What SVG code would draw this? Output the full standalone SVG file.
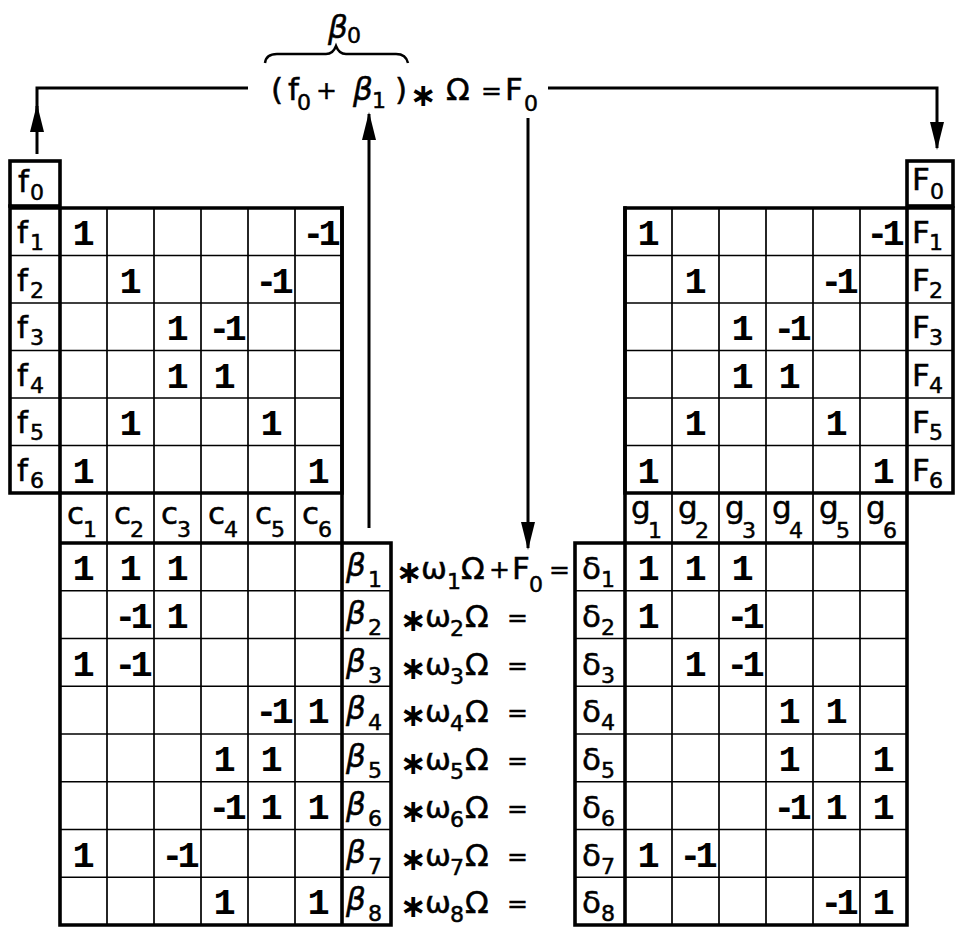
<svg xmlns="http://www.w3.org/2000/svg" width="956" height="928" viewBox="0 0 956 928">
<style>
.tk{stroke:#000;stroke-width:3.6;fill:none;stroke-linecap:square}
.tn{stroke:#000;stroke-width:1.7;fill:none}
.cn{stroke:#000;stroke-width:3;fill:none}
text{font-family:"DejaVu Sans","Liberation Sans",sans-serif;fill:#000;stroke:#000;stroke-width:0.5}
.L{font-size:31px}
.S{font-size:22px}
.E{font-size:25px}
.I{font-style:italic}
.A{font-size:32px;font-weight:bold;stroke-width:0}
.n{font-family:"Liberation Mono","DejaVu Sans Mono",monospace;font-size:37px;font-weight:bold;text-anchor:middle;stroke-width:0}
.m{font-family:"Liberation Mono","DejaVu Sans Mono",monospace;font-size:37px;font-weight:bold;text-anchor:middle;letter-spacing:-6px;stroke-width:0}
</style>
<defs>
<marker id="ah" viewBox="0 0 28 14" refX="26" refY="7" markerWidth="28" markerHeight="14" markerUnits="userSpaceOnUse" orient="auto">
<path d="M0,0 L28,7 L0,14 z" fill="#000"/>
</marker>
</defs>

<g id="connectors">
<path class="cn" d="M37,154 L37,106" marker-end="url(#ah)"/>
<path class="cn" d="M37,112 L37,88 L248,88"/>
<path class="cn" d="M548,88 L937,88 L937,148" marker-end="url(#ah)"/>
<path class="cn" d="M369,528 L369,114" marker-end="url(#ah)"/>
<path class="cn" d="M528,118 L528,548" marker-end="url(#ah)"/>
</g>

<g id="top-equation">
<path d="M265,63 Q266,54 277,54 L326,54 Q333,54 336,46 Q339,54 346,54 L396,54 Q406,54 408,63" stroke="#000" stroke-width="2.5" fill="none"/>
<text class="L I" x="328" y="38">β</text><text class="S" x="347" y="43">0</text>
<text class="L" x="271" y="100">(</text>
<text class="L" x="288" y="100">f</text><text class="S" x="297" y="110">0</text>
<text class="E" x="316" y="99">+</text>
<text class="L I" x="353" y="100">β</text><text class="S" x="372" y="108">1</text>
<text class="L" x="395" y="100">)</text>
<text class="A" x="410" y="106">∗</text>
<text class="L" x="446" y="100">Ω</text>
<text class="E" x="481" y="99">=</text>
<text class="L" x="505" y="100">F</text><text class="S" x="524" y="111">0</text>
</g>

<g id="f0-box">
<rect class="tk" x="10" y="161" width="50" height="45"/>
<text class="L" x="18" y="192">f</text><text class="S" x="30" y="200">0</text>
</g>

<g id="F0-box">
<rect class="tk" x="907" y="161" width="46" height="45"/>
<text class="L" x="912" y="190">F</text><text class="S" x="930" y="199">0</text>
</g>

<g id="left-upper-matrix">
<path class="tn" d="M107,208V493M154,208V493M201,208V493M248,208V493M295,208V493M10,255.5H342M10,303H342M10,350.5H342M10,398H342M10,445.5H342"/>
<path class="tk" d="M10,206V493H342V208H10M60,208V493"/>
<text class="L" x="17" y="243">f</text><text class="S" x="30" y="250">1</text>
<text class="L" x="17" y="290.5">f</text><text class="S" x="30" y="297.5">2</text>
<text class="L" x="17" y="338">f</text><text class="S" x="30" y="345">3</text>
<text class="L" x="17" y="385.5">f</text><text class="S" x="30" y="392.5">4</text>
<text class="L" x="17" y="433">f</text><text class="S" x="30" y="440">5</text>
<text class="L" x="17" y="480.5">f</text><text class="S" x="30" y="487.5">6</text>
<text class="n" x="83.5" y="245">1</text><text class="m" x="318.5" y="245">-1</text>
<text class="n" x="130.5" y="292.5">1</text><text class="m" x="271.5" y="292.5">-1</text>
<text class="n" x="177.5" y="340">1</text><text class="m" x="224.5" y="340">-1</text>
<text class="n" x="177.5" y="387.5">1</text><text class="n" x="224.5" y="387.5">1</text>
<text class="n" x="130.5" y="435">1</text><text class="n" x="271.5" y="435">1</text>
<text class="n" x="83.5" y="482.5">1</text><text class="n" x="318.5" y="482.5">1</text>
</g>

<g id="left-lower-matrix">
<path class="tn" d="M107,493V925M154,493V925M201,493V925M248,493V925M295,493V925M60,590.75H391M60,638.5H391M60,686.25H391M60,734H391M60,781.75H391M60,829.5H391M60,877.25H391"/>
<path class="tk" d="M60,493V925H391V543H60M342,208V925"/>
<text class="L" x="67" y="524">c</text><text class="S" x="83" y="537">1</text>
<text class="L" x="114" y="524">c</text><text class="S" x="130" y="537">2</text>
<text class="L" x="161" y="524">c</text><text class="S" x="177" y="537">3</text>
<text class="L" x="208" y="524">c</text><text class="S" x="224" y="537">4</text>
<text class="L" x="255" y="524">c</text><text class="S" x="271" y="537">5</text>
<text class="L" x="302" y="524">c</text><text class="S" x="318" y="537">6</text>
<text class="L I" x="346" y="576">β</text><text class="S" x="368" y="587">1</text>
<text class="L I" x="346" y="623.75">β</text><text class="S" x="368" y="634.75">2</text>
<text class="L I" x="346" y="671.5">β</text><text class="S" x="368" y="682.5">3</text>
<text class="L I" x="346" y="719.25">β</text><text class="S" x="368" y="730.25">4</text>
<text class="L I" x="346" y="767">β</text><text class="S" x="368" y="778">5</text>
<text class="L I" x="346" y="814.75">β</text><text class="S" x="368" y="825.75">6</text>
<text class="L I" x="346" y="862.5">β</text><text class="S" x="368" y="873.5">7</text>
<text class="L I" x="346" y="910.25">β</text><text class="S" x="368" y="921">8</text>
<text class="n" x="83.5" y="580">1</text><text class="n" x="130.5" y="580">1</text><text class="n" x="177.5" y="580">1</text>
<text class="m" x="130.5" y="627.75">-1</text><text class="n" x="177.5" y="627.75">1</text>
<text class="n" x="83.5" y="675.5">1</text><text class="m" x="130.5" y="675.5">-1</text>
<text class="m" x="271.5" y="723.25">-1</text><text class="n" x="318.5" y="723.25">1</text>
<text class="n" x="224.5" y="771">1</text><text class="n" x="271.5" y="771">1</text>
<text class="m" x="224.5" y="818.75">-1</text><text class="n" x="271.5" y="818.75">1</text><text class="n" x="318.5" y="818.75">1</text>
<text class="n" x="83.5" y="866.5">1</text><text class="m" x="177.5" y="866.5">-1</text>
<text class="n" x="224.5" y="914.25">1</text><text class="n" x="318.5" y="914.25">1</text>
</g>

<g id="middle-equations">
<text class="A" x="396" y="583">∗</text><text class="L" x="421" y="579">ω</text><text class="S" x="447" y="589">1</text><text class="L" x="461" y="579">Ω</text><text class="E" x="489" y="578">+</text><text class="L" x="512" y="579">F</text><text class="S" x="529" y="592">0</text><text class="E" x="549" y="578">=</text>
<text class="A" x="400" y="630.75">∗</text><text class="L" x="425" y="626.75">ω</text><text class="S" x="450" y="635.75">2</text><text class="L" x="465" y="626.75">Ω</text><text class="E" x="507" y="625.75">=</text>
<text class="A" x="400" y="678.5">∗</text><text class="L" x="425" y="674.5">ω</text><text class="S" x="450" y="683.5">3</text><text class="L" x="465" y="674.5">Ω</text><text class="E" x="507" y="673.5">=</text>
<text class="A" x="400" y="726.25">∗</text><text class="L" x="425" y="722.25">ω</text><text class="S" x="450" y="731.25">4</text><text class="L" x="465" y="722.25">Ω</text><text class="E" x="507" y="721.25">=</text>
<text class="A" x="400" y="774">∗</text><text class="L" x="425" y="770">ω</text><text class="S" x="450" y="779">5</text><text class="L" x="465" y="770">Ω</text><text class="E" x="507" y="769">=</text>
<text class="A" x="400" y="821.75">∗</text><text class="L" x="425" y="817.75">ω</text><text class="S" x="450" y="826.75">6</text><text class="L" x="465" y="817.75">Ω</text><text class="E" x="507" y="816.75">=</text>
<text class="A" x="400" y="869.5">∗</text><text class="L" x="425" y="865.5">ω</text><text class="S" x="450" y="874.5">7</text><text class="L" x="465" y="865.5">Ω</text><text class="E" x="507" y="864.5">=</text>
<text class="A" x="400" y="917.25">∗</text><text class="L" x="425" y="913.25">ω</text><text class="S" x="450" y="922.25">8</text><text class="L" x="465" y="913.25">Ω</text><text class="E" x="507" y="912.25">=</text>
</g>

<g id="right-upper-matrix">
<path class="tn" d="M672,208V493M719,208V493M766,208V493M813,208V493M860,208V493M625,255.5H953M625,303H953M625,350.5H953M625,398H953M625,445.5H953"/>
<path class="tk" d="M625,208H953V493H625V208M907,208V493"/>
<text class="L" x="912" y="243">F</text><text class="S" x="929" y="250">1</text>
<text class="L" x="912" y="290.5">F</text><text class="S" x="929" y="297.5">2</text>
<text class="L" x="912" y="338">F</text><text class="S" x="929" y="345">3</text>
<text class="L" x="912" y="385.5">F</text><text class="S" x="929" y="392.5">4</text>
<text class="L" x="912" y="433">F</text><text class="S" x="929" y="440">5</text>
<text class="L" x="912" y="480.5">F</text><text class="S" x="929" y="487.5">6</text>
<text class="n" x="648.5" y="245">1</text><text class="m" x="882.5" y="245">-1</text>
<text class="n" x="695.5" y="292.5">1</text><text class="m" x="836.5" y="292.5">-1</text>
<text class="n" x="742.5" y="340">1</text><text class="m" x="789.5" y="340">-1</text>
<text class="n" x="742.5" y="387.5">1</text><text class="n" x="789.5" y="387.5">1</text>
<text class="n" x="695.5" y="435">1</text><text class="n" x="836.5" y="435">1</text>
<text class="n" x="648.5" y="482.5">1</text><text class="n" x="883.5" y="482.5">1</text>
</g>

<g id="right-lower-matrix">
<path class="tn" d="M672,493V925M719,493V925M766,493V925M813,493V925M860,493V925M575,590.75H907M575,638.5H907M575,686.25H907M575,734H907M575,781.75H907M575,829.5H907M575,877.25H907"/>
<path class="tk" d="M625,208V925M907,493V925H575V543H907"/>
<text class="L" x="631" y="518">g</text><text class="S" x="648" y="538">1</text>
<text class="L" x="678" y="518">g</text><text class="S" x="695" y="538">2</text>
<text class="L" x="725" y="518">g</text><text class="S" x="742" y="538">3</text>
<text class="L" x="772" y="518">g</text><text class="S" x="789" y="538">4</text>
<text class="L" x="819" y="518">g</text><text class="S" x="836" y="538">5</text>
<text class="L" x="866" y="518">g</text><text class="S" x="883" y="538">6</text>
<text class="L" x="582" y="579">δ</text><text class="S" x="601" y="587">1</text>
<text class="L" x="582" y="626.75">δ</text><text class="S" x="601" y="634.75">2</text>
<text class="L" x="582" y="674.5">δ</text><text class="S" x="601" y="682.5">3</text>
<text class="L" x="582" y="722.25">δ</text><text class="S" x="601" y="730.25">4</text>
<text class="L" x="582" y="770">δ</text><text class="S" x="601" y="778">5</text>
<text class="L" x="582" y="817.75">δ</text><text class="S" x="601" y="825.75">6</text>
<text class="L" x="582" y="865.5">δ</text><text class="S" x="601" y="873.5">7</text>
<text class="L" x="582" y="913.25">δ</text><text class="S" x="601" y="921">8</text>
<text class="n" x="648.5" y="580">1</text><text class="n" x="695.5" y="580">1</text><text class="n" x="742.5" y="580">1</text>
<text class="n" x="648.5" y="627.75">1</text><text class="m" x="742.5" y="627.75">-1</text>
<text class="n" x="695.5" y="675.5">1</text><text class="m" x="742.5" y="675.5">-1</text>
<text class="n" x="789.5" y="723.25">1</text><text class="n" x="836.5" y="723.25">1</text>
<text class="n" x="789.5" y="771">1</text><text class="n" x="883.5" y="771">1</text>
<text class="m" x="789.5" y="818.75">-1</text><text class="n" x="836.5" y="818.75">1</text><text class="n" x="883.5" y="818.75">1</text>
<text class="n" x="648.5" y="866.5">1</text><text class="m" x="695.5" y="866.5">-1</text>
<text class="m" x="836.5" y="914.25">-1</text><text class="n" x="883.5" y="914.25">1</text>
</g>
</svg>
